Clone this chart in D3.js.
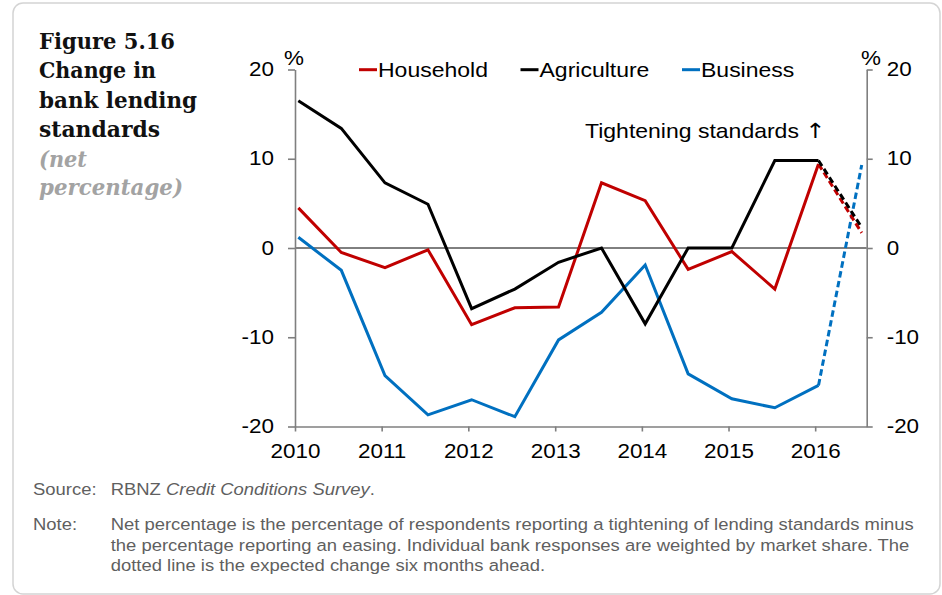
<!DOCTYPE html>
<html>
<head>
<meta charset="utf-8">
<script src="https://cdn.jsdelivr.net/npm/d3@7"></script>
<style>
  html, body { margin: 0; padding: 0; background: #ffffff; }
  svg { display: block; }
</style>
</head>
<body>
<svg id="chart" width="942" height="595"></svg>
<script>
// Half-yearly survey periods (the last one is the six-month-ahead expectation)
const periods = [
  "2010-01-15", "2010-07-15", "2011-01-15", "2011-07-15", "2012-01-15",
  "2012-07-15", "2013-01-15", "2013-07-15", "2014-01-15", "2014-07-15",
  "2015-01-15", "2015-07-15", "2016-01-15", "2016-07-15"
];
const household   = [4.5, -0.5, -2.2, -0.2, -8.6, -6.7, -6.6, 7.3, 5.3, -2.4, -0.4, -4.6, 9.4, 1.7];
const agriculture = [16.5, 13.4, 7.3, 4.9, -6.8, -4.6, -1.6, 0, -8.5, 0, 0, 9.8, 9.8, 2.3];
const business    = [1.2, -2.5, -14.3, -18.7, -17.0, -18.9, -10.3, -7.2, -1.9, -14.1, -16.9, -17.9, -15.4, 9.3];

const seriesNames  = ["Household", "Agriculture", "Business"];
const seriesColors = ["#c00000", "#000000", "#0070c0"];
const yTicks = [-20, -10, 0, 10, 20];
const yearTicks = [2010, 2011, 2012, 2013, 2014, 2015, 2016];

const titleLines = ["Figure 5.16", "Change in", "bank lending", "standards"];
const subtitleLines = ["(net", "percentage)"];
const noteLines = [
  "Net percentage is the percentage of respondents reporting a tightening of lending standards minus",
  "the percentage reporting an easing. Individual bank responses are weighted by market share. The",
  "dotted line is the expected change six months ahead."
];

const svg = d3.select("#chart");
const SX = 1.15;   // horizontal stretch of chart lettering
const NX = 1.085;  // horizontal stretch of footnote lettering
const parse = d3.timeParse("%Y-%m-%d");
const dates = periods.map(parse);

// Card frame
svg.append("rect")
  .attr("x", 13).attr("y", 3).attr("width", 927).attr("height", 591)
  .attr("rx", 10).attr("ry", 10)
  .attr("fill", "#ffffff").attr("stroke", "#d4d4d4").attr("stroke-width", 1.5);

// Title block
const titleWidths = [136, 117, 158, 121];
const titleBase = [48.5, 78, 107.5, 137];
titleLines.forEach((t, i) => {
  svg.append("text")
    .attr("x", 39).attr("y", titleBase[i])
    .attr("font-family", "'DejaVu Serif', serif")
    .attr("font-weight", "bold")
    .attr("font-size", 22)
    .attr("fill", "#111111")
    .attr("textLength", titleWidths[i])
    .attr("lengthAdjust", "spacingAndGlyphs")
    .text(t);
});
const subWidths = [48, 144];
const subBase = [166.5, 195];
subtitleLines.forEach((t, i) => {
  svg.append("text")
    .attr("x", 39).attr("y", subBase[i])
    .attr("font-family", "'DejaVu Serif', serif")
    .attr("font-weight", "bold")
    .attr("font-style", "italic")
    .attr("font-size", 22)
    .attr("fill", "#a3a3a3")
    .attr("textLength", subWidths[i])
    .attr("lengthAdjust", "spacingAndGlyphs")
    .text(t);
});

// Plot geometry
const plotLeft = 295, plotRight = 866.7, plotTop = 69.5, plotBottom = 426.5;
const x = d3.scaleTime()
  .domain([new Date(2010, 0, 1), new Date(2016, 7, 5)])
  .range([plotLeft, plotRight]);
const y = d3.scaleLinear().domain([-20, 20]).range([plotBottom, plotTop]);

const FONT = "'Liberation Sans', Arial, sans-serif";
const axisColor = "#7f7f7f";
const plainNumber = d => String(d);

// Zero line
svg.append("line")
  .attr("x1", plotLeft).attr("x2", plotRight)
  .attr("y1", y(0)).attr("y2", y(0))
  .attr("stroke", "#000000").attr("stroke-width", 1);

function styleAxis(g) {
  g.select(".domain").attr("stroke", axisColor).attr("stroke-width", 1.6);
  g.selectAll(".tick line").attr("stroke", axisColor).attr("stroke-width", 1.6);
  g.selectAll("text")
    .attr("font-family", FONT).attr("font-size", 19.5).attr("fill", "#000000");
}

// Left axis
const gLeft = svg.append("g").attr("transform", `translate(${plotLeft},0)`)
  .call(d3.axisLeft(y).tickValues(yTicks).tickFormat(plainNumber).tickSize(7).tickSizeOuter(0));
styleAxis(gLeft);
gLeft.selectAll(".tick text").attr("x", -21 / SX).attr("transform", `scale(${SX},1)`);

// Right axis
const gRight = svg.append("g").attr("transform", `translate(${plotRight},0)`)
  .call(d3.axisRight(y).tickValues(yTicks).tickFormat(plainNumber).tickSize(6).tickSizeOuter(0));
styleAxis(gRight);
gRight.selectAll(".tick text").attr("x", 20 / SX).attr("transform", `scale(${SX},1)`);

// Bottom axis
const gBottom = svg.append("g").attr("transform", `translate(0,${plotBottom})`)
  .call(d3.axisBottom(x)
    .tickValues(yearTicks.map(yr => new Date(yr, 0, 1)))
    .tickFormat(d3.timeFormat("%Y"))
    .tickSize(5).tickSizeOuter(0));
styleAxis(gBottom);
gBottom.selectAll(".tick text").attr("y", 31.5).attr("dy", 0)
  .attr("transform", `scale(${SX},1)`);

// Stretched text helper
function label(txt, px, py, size, anchor) {
  return svg.append("text")
    .attr("transform", `translate(${px},${py}) scale(${SX},1)`)
    .attr("font-family", FONT).attr("font-size", size)
    .attr("text-anchor", anchor || "start")
    .attr("fill", "#000000")
    .text(txt);
}
label("%", 294, 65, 19.5, "middle");
label("%", 871, 65, 19.5, "middle");
const tight = label("Tightening standards ", 585, 138.3, 20);
tight.append("tspan").attr("font-family", "'DejaVu Sans', sans-serif")
  .attr("font-size", 21).text("\u2191");

// Series lines: solid for survey results, dashed for the expectation
const seriesValues = [household, agriculture, business];
const line = d3.line().x(d => x(d.date)).y(d => y(d.value));
// business underneath, then household, then agriculture on top
const drawOrder = [2, 0, 1];
drawOrder.forEach(si => {
  const pts = dates.map((d, i) => ({ date: d, value: seriesValues[si][i] }));
  const n = pts.length;
  svg.append("path")
    .datum(pts.slice(0, n - 1))
    .attr("d", line)
    .attr("fill", "none")
    .attr("stroke", seriesColors[si])
    .attr("stroke-width", 3)
    .attr("stroke-linejoin", "miter");
  svg.append("path")
    .datum(pts.slice(n - 2))
    .attr("d", line)
    .attr("fill", "none")
    .attr("stroke", seriesColors[si])
    .attr("stroke-width", 3)
    .attr("stroke-dasharray", "6.5,3.5");
});

// Legend
const legendX = [359, 520.5, 682];
seriesNames.forEach((name, i) => {
  svg.append("line")
    .attr("x1", legendX[i]).attr("x2", legendX[i] + 18)
    .attr("y1", 69.7).attr("y2", 69.7)
    .attr("stroke", seriesColors[i]).attr("stroke-width", 3);
  label(name, legendX[i] + 19, 76.7, 20);
});

// Source and note
const noteColor = "#5f5f5f";
function noteText(px, py) {
  return svg.append("text")
    .attr("transform", `translate(${px},${py}) scale(${NX},1)`)
    .attr("font-family", FONT).attr("font-size", 17).attr("fill", noteColor);
}
noteText(33, 495).text("Source:");
const src2 = noteText(110.7, 495);
src2.append("tspan").text("RBNZ ");
src2.append("tspan").attr("font-style", "italic").text("Credit Conditions Survey");
src2.append("tspan").text(".");

noteText(33, 530).text("Note:");
const noteBase = [530, 550.5, 571];
noteLines.forEach((t, i) => {
  noteText(110.7, noteBase[i]).text(t);
});
</script>
</body>
</html>
